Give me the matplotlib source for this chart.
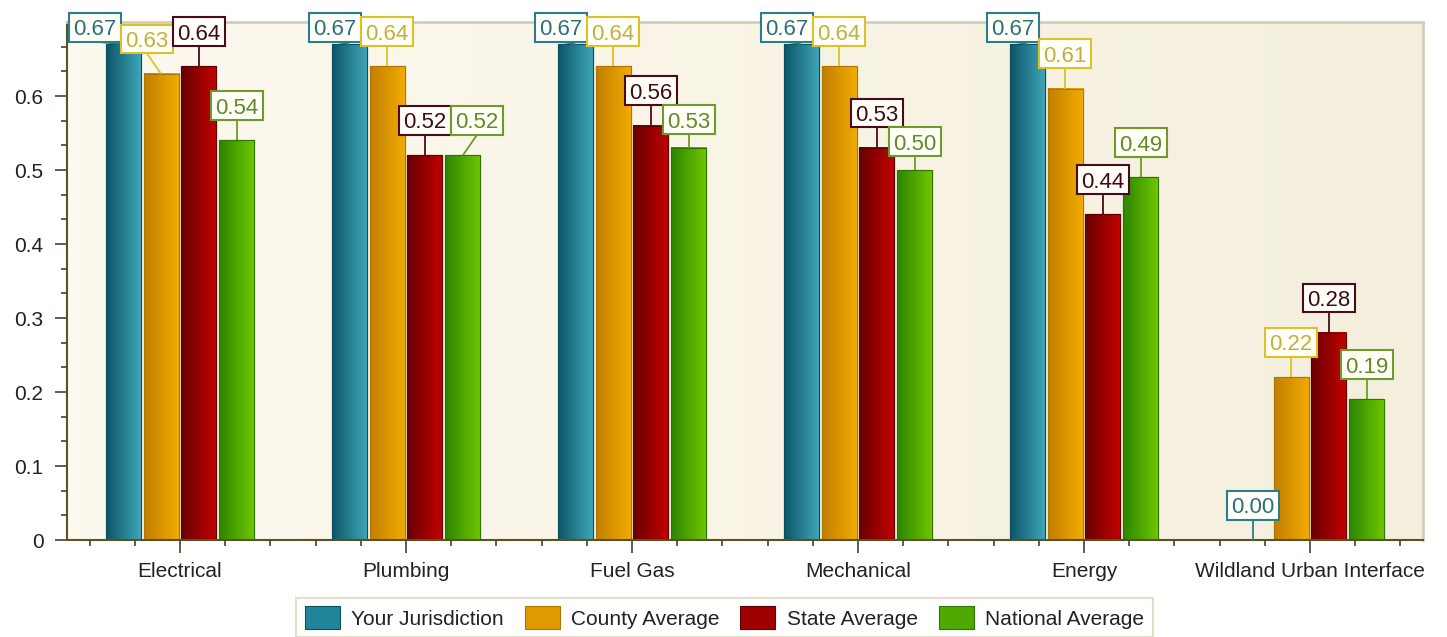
import numpy as np
import matplotlib
matplotlib.use("Agg")
import matplotlib.pyplot as plt
from matplotlib.patches import Rectangle
from matplotlib.ticker import FixedLocator, MultipleLocator
from matplotlib.colors import LinearSegmentedColormap

# ---------------- data ----------------
categories = ["Electrical", "Plumbing", "Fuel Gas", "Mechanical", "Energy",
              "Wildland Urban Interface"]
series_names = ["Your Jurisdiction", "County Average", "State Average", "National Average"]
your_jurisdiction = [0.67, 0.67, 0.67, 0.67, 0.67, 0.00]
county_average = [0.63, 0.64, 0.64, 0.64, 0.61, 0.22]
state_average = [0.64, 0.52, 0.56, 0.53, 0.44, 0.28]
national_average = [0.54, 0.52, 0.53, 0.50, 0.49, 0.19]
y_ticks = [0, 0.1, 0.2, 0.3, 0.4, 0.5, 0.6]
y_tick_labels = ["0", "0.1", "0.2", "0.3", "0.4", "0.5", "0.6"]

series_values = [your_jurisdiction, county_average, state_average, national_average]

# ---------------- styles ----------------
grad_left = ["#0b5567", "#c27f00", "#680000", "#2c8500"]
grad_right = ["#40a8ba", "#f3ac00", "#c40000", "#70c800"]
mid_col = ["#1f8598", "#e09a00", "#a00000", "#4fa800"]
edge_col = ["#0d4f5e", "#b07400", "#5a0000", "#2f7400"]
lab_edge = ["#2b7d8c", "#dcc22a", "#4a0a1e", "#6f9a2a"]
lab_text = ["#2b6f80", "#c4ae40", "#3c0a18", "#5f8a26"]

FONT = "Liberation Sans"
plt.rcParams["font.family"] = [FONT, "DejaVu Sans"]
FS = 15
LFS = 16

fig = plt.figure(figsize=(14.47, 6.37), dpi=100)
fig.patch.set_facecolor("white")
ax = fig.add_axes([67 / 1447, 1 - 540 / 637, (1423 - 67) / 1447, (540 - 22) / 637])

YMAX = 0.70
XMIN, XMAX = -0.5, len(categories) - 0.5

# background gradient of plot area
bg = np.linspace(0, 1, 256).reshape(1, -1)
bg_cmap = LinearSegmentedColormap.from_list("bg", ["#fdf9ef", "#f4efdd"])
ax.imshow(bg, extent=[0, 1, 0, 1], transform=ax.transAxes, aspect="auto",
          cmap=bg_cmap, zorder=0, interpolation="bilinear")

n = len(series_values)
step = 0.168
width = 0.155
x = np.arange(len(categories))
grad = np.linspace(0, 1, 128).reshape(1, -1)

for i, vals in enumerate(series_values):
    offs = (i - (n - 1) / 2) * step
    bars = ax.bar(x + offs, vals, width, color=mid_col[i], edgecolor=edge_col[i],
                  linewidth=0.8, zorder=2, label=series_names[i])
    cm = LinearSegmentedColormap.from_list("g%d" % i, [grad_left[i], grad_right[i]])
    for b in bars:
        h = b.get_height()
        if h <= 0:
            continue
        x0 = b.get_x()
        ax.imshow(grad, extent=[x0, x0 + b.get_width(), 0, h], aspect="auto",
                  cmap=cm, zorder=2.1, interpolation="bilinear")
        ax.add_patch(Rectangle((x0, 0), b.get_width(), h, fill=False,
                               edgecolor=edge_col[i], linewidth=0.8, zorder=2.2))

# ---------------- value labels with simple collision handling ----------------
W = 0.230      # label box width (data x)
H = 0.039      # label box height (data y)
OFF = 0.047    # label centre above bar top
YCLAMP = 0.693


def resolve(p, q, direction):
    dx = abs(q[0] - p[0])
    dy = q[1] - p[1]
    if abs(dy) < H and dx < W:
        if dy < 0 and -dy > H / 2:
            q[1] = p[1] - H
        else:
            q[0] = p[0] + direction * W


for c in range(len(categories)):
    pos = []
    for i in range(n):
        v = series_values[i][c]
        bx = x[c] + (i - (n - 1) / 2) * step
        pos.append([bx, min(v + OFF, YCLAMP), bx, v])
    resolve(pos[2], pos[3], +1)
    resolve(pos[2], pos[1], -1)
    resolve(pos[1], pos[0], -1)
    for i in range(n):
        lx, ly, bx, v = pos[i]
        ax.plot([bx, lx], [v, ly - H / 2], color=lab_edge[i], lw=1.3, zorder=3,
                clip_on=False, solid_capstyle="butt")
        ax.add_patch(Rectangle((lx - W / 2, ly - H / 2), W, H, facecolor="#fffff8",
                               edgecolor=lab_edge[i], linewidth=1.5, zorder=4,
                               clip_on=False))
        ax.text(lx, ly, "%.2f" % v, ha="center", va="center_baseline", fontsize=LFS,
                color=lab_text[i], zorder=5, clip_on=False)

# ---------------- axes ----------------
ax.set_xlim(XMIN, XMAX)
ax.set_ylim(0, YMAX)
ax.set_xticks(x)
ax.set_xticklabels(categories)
ax.xaxis.set_minor_locator(MultipleLocator(0.2))
ax.set_yticks(y_ticks)
ax.set_yticklabels(y_tick_labels)
ax.yaxis.set_minor_locator(FixedLocator([k / 30 for k in range(21) if k % 3]))

tick_col = "#4a4126"
ax.tick_params(axis="both", which="major", direction="out", length=9, width=1.2,
               color=tick_col, labelsize=FS, labelcolor="#222222")
ax.tick_params(axis="both", which="minor", direction="out", length=4.5, width=1.2,
               color=tick_col)
ax.tick_params(axis="x", which="major", pad=7)
ax.tick_params(axis="y", which="major", pad=8)

for s in ["left", "bottom"]:
    ax.spines[s].set_color("#5b5128")
    ax.spines[s].set_linewidth(1.5)
for s in ["top", "right"]:
    ax.spines[s].set_color("#d3cfbd")
    ax.spines[s].set_linewidth(2)

# ---------------- legend ----------------
leg = fig.legend(loc="upper center", bbox_to_anchor=(724.5 / 1447, 1 - 598 / 637),
                 ncol=4, fontsize=FS, frameon=True, fancybox=False,
                 handlelength=1.68, handleheight=1.3, handletextpad=0.55,
                 columnspacing=1.0, borderpad=0.4, borderaxespad=0)
leg.get_frame().set_edgecolor("#dcd6bc")
leg.get_frame().set_linewidth(1.5)
leg.get_frame().set_facecolor("white")
for t in leg.get_texts():
    t.set_color("#222222")

fig.savefig("out.png", dpi=100)
